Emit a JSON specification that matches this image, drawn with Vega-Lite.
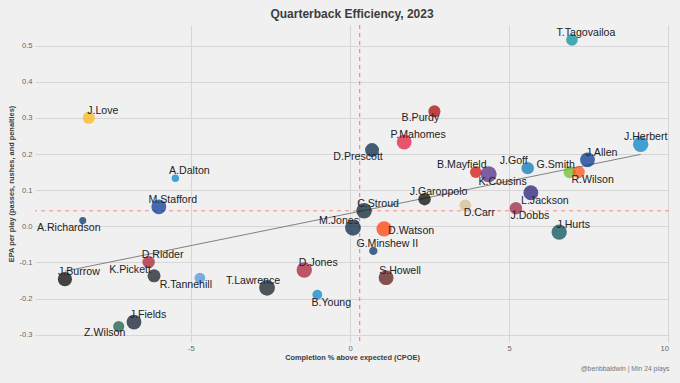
{
  "$schema": "https://vega.github.io/schema/vega-lite/v6.json",
  "width": 634,
  "height": 317,
  "autosize": {"type": "none"},
  "padding": {"left": 35, "top": 25, "right": 11, "bottom": 41},
  "background": "#F0F0F0",
  "title": {"text": "Quarterback Efficiency, 2023", "fontSize": 12, "fontWeight": "bold", "color": "#3C3C3C", "font": "Liberation Sans", "anchor": "middle", "offset": 3},
  "config": {
    "view": {"stroke": null},
    "axis": {"domain": false, "ticks": false, "gridColor": "#D6D6D6", "gridWidth": 1, "labelColor": "#666666", "labelFont": "Liberation Sans", "titleFont": "Liberation Sans"},
    "text": {"font": "Liberation Sans"}
  },
  "datasets": {
    "qbs": [
      {"player": "T.Tagovailoa", "team": "MIA", "cpoe": 6.97, "epa": 0.516, "plays": 397},
      {"player": "J.Love", "team": "GB", "cpoe": -8.21, "epa": 0.300, "plays": 423},
      {"player": "A.Dalton", "team": "CAR", "cpoe": -5.49, "epa": 0.133, "plays": 160},
      {"player": "M.Stafford", "team": "LA", "cpoe": -6.01, "epa": 0.054, "plays": 640},
      {"player": "A.Richardson", "team": "IND", "cpoe": -8.40, "epa": 0.016, "plays": 144},
      {"player": "J.Burrow", "team": "CIN", "cpoe": -8.96, "epa": -0.146, "plays": 593},
      {"player": "D.Ridder", "team": "ATL", "cpoe": -6.33, "epa": -0.099, "plays": 449},
      {"player": "K.Pickett", "team": "PIT", "cpoe": -6.16, "epa": -0.137, "plays": 490},
      {"player": "R.Tannehill", "team": "TEN", "cpoe": -4.72, "epa": -0.143, "plays": 336},
      {"player": "T.Lawrence", "team": "JAX", "cpoe": -2.61, "epa": -0.170, "plays": 722},
      {"player": "D.Jones", "team": "NYG", "cpoe": -1.44, "epa": -0.121, "plays": 689},
      {"player": "B.Young", "team": "CAR", "cpoe": -1.03, "epa": -0.189, "plays": 281},
      {"player": "J.Fields", "team": "CHI", "cpoe": -6.79, "epa": -0.265, "plays": 640},
      {"player": "Z.Wilson", "team": "NYJ", "cpoe": -7.27, "epa": -0.277, "plays": 360},
      {"player": "D.Prescott", "team": "DAL", "cpoe": 0.69, "epa": 0.211, "plays": 562},
      {"player": "P.Mahomes", "team": "KC", "cpoe": 1.70, "epa": 0.233, "plays": 640},
      {"player": "B.Purdy", "team": "SF", "cpoe": 2.65, "epa": 0.318, "plays": 423},
      {"player": "C.Stroud", "team": "HOU", "cpoe": 0.44, "epa": 0.043, "plays": 689},
      {"player": "M.Jones", "team": "NE", "cpoe": 0.09, "epa": -0.004, "plays": 722},
      {"player": "D.Watson", "team": "CLE", "cpoe": 1.07, "epa": -0.007, "plays": 689},
      {"player": "G.Minshew II", "team": "IND", "cpoe": 0.73, "epa": -0.068, "plays": 202},
      {"player": "S.Howell", "team": "WAS", "cpoe": 1.13, "epa": -0.142, "plays": 640},
      {"player": "J.Garoppolo", "team": "LV", "cpoe": 2.34, "epa": 0.075, "plays": 449},
      {"player": "D.Carr", "team": "NO", "cpoe": 3.62, "epa": 0.058, "plays": 397},
      {"player": "B.Mayfield", "team": "TB", "cpoe": 3.95, "epa": 0.150, "plays": 397},
      {"player": "K.Cousins", "team": "MIN", "cpoe": 4.35, "epa": 0.144, "plays": 757},
      {"player": "J.Goff", "team": "DET", "cpoe": 5.58, "epa": 0.161, "plays": 449},
      {"player": "L.Jackson", "team": "BAL", "cpoe": 5.68, "epa": 0.093, "plays": 640},
      {"player": "J.Dobbs", "team": "ARI", "cpoe": 5.21, "epa": 0.050, "plays": 449},
      {"player": "J.Hurts", "team": "PHI", "cpoe": 6.57, "epa": -0.016, "plays": 689},
      {"player": "G.Smith", "team": "SEA", "cpoe": 6.90, "epa": 0.150, "plays": 449},
      {"player": "R.Wilson", "team": "DEN", "cpoe": 7.18, "epa": 0.150, "plays": 449},
      {"player": "J.Allen", "team": "BUF", "cpoe": 7.46, "epa": 0.184, "plays": 640},
      {"player": "J.Herbert", "team": "LAC", "cpoe": 9.13, "epa": 0.227, "plays": 689}
    ],
    "means": [{"cpoe_mean": 0.30, "epa_mean": 0.043}],
    "fit": [{"cpoe": -8.96, "epa": -0.124}, {"cpoe": 9.13, "epa": 0.199}]
  },
  "resolve": {"axis": {"x": "independent", "y": "independent"}},
  "layer": [
    {
      "data": {"name": "means"},
      "mark": {"type": "rule", "color": "#F48A8A", "strokeDash": [4, 4], "strokeWidth": 1.2},
      "encoding": {
        "x": {"field": "cpoe_mean", "type": "quantitative", "axis": null, "scale": {"domain": [-9.9, 10.02], "nice": false, "zero": false}},
        "color": {"value": "#F48A8A"}
      }
    },
    {
      "data": {"name": "means"},
      "mark": {"type": "rule", "color": "#F48A8A", "strokeDash": [4, 4], "strokeWidth": 1},
      "encoding": {
        "y": {"field": "epa_mean", "type": "quantitative", "axis": null, "scale": {"domain": [-0.32, 0.557], "nice": false, "zero": false}},
        "color": {"value": "#F48A8A"}
      }
    },
    {
      "data": {"name": "fit"},
      "mark": {"type": "line", "color": "#808080", "strokeWidth": 1},
      "encoding": {
        "x": {"field": "cpoe", "type": "quantitative", "scale": {"domain": [-9.9, 10.02], "nice": false, "zero": false},
          "axis": {"orient": "bottom", "labels": false, "ticks": false, "domain": false, "grid": false, "title": "@benbbaldwin | Min 24 plays", "titleAnchor": "end", "titleFontSize": 6.8, "titleFontWeight": "normal", "titleColor": "#777777", "titlePadding": 23}},
        "y": {"field": "epa", "type": "quantitative", "axis": null, "scale": {"domain": [-0.32, 0.557], "nice": false, "zero": false}}
      }
    },
    {
      "data": {"name": "qbs"},
      "mark": {"type": "circle", "opacity": 0.72},
      "encoding": {
        "x": {"field": "cpoe", "type": "quantitative", "scale": {"domain": [-9.9, 10.02], "nice": false, "zero": false},
          "axis": {"orient": "bottom", "values": [-5, 0, 5, 10], "title": "Completion % above expected (CPOE)", "titleFontSize": 7.4, "titleFontWeight": "bold", "titleColor": "#3C3C3C", "labelFontSize": 7.6, "labelPadding": 2, "titlePadding": 2, "grid": true, "labelExpr": "replace(datum.label, '−', '-')"}},
        "y": {"field": "epa", "type": "quantitative", "scale": {"domain": [-0.32, 0.557], "nice": false, "zero": false},
          "axis": {"orient": "left", "values": [-0.3, -0.2, -0.1, 0, 0.1, 0.2, 0.3, 0.4, 0.5], "format": ".1f", "labelExpr": "replace(datum.label, '−', '-')", "title": "EPA per play (passes, rushes, and penalties)", "titleFontSize": 7.4, "titleFontWeight": "bold", "titleColor": "#3C3C3C", "labelFontSize": 7.6, "labelPadding": 3, "titlePadding": 3, "grid": true}},
        "size": {"field": "plays", "type": "quantitative", "legend": null, "scale": {"type": "linear", "domain": [0, 1000], "range": [0, 345]}},
        "color": {"field": "team", "type": "nominal", "legend": null,
          "scale": {
            "domain": ["MIA", "GB", "CAR", "LA", "IND", "CIN", "ATL", "PIT", "TEN", "JAX", "NYG", "CHI", "NYJ", "DAL", "KC", "SF", "HOU", "NE", "CLE", "WAS", "LV", "NO", "TB", "MIN", "DET", "BAL", "ARI", "PHI", "SEA", "DEN", "BUF", "LAC"],
            "range": ["#008E97", "#FFB612", "#0085CA", "#003594", "#002C5F", "#000000", "#A71930", "#101820", "#4B92DB", "#101820", "#A71930", "#0B162A", "#125740", "#002244", "#E31837", "#AA0000", "#03202F", "#002244", "#FF3C00", "#5A1414", "#000000", "#D3BC8D", "#D50A0A", "#4F2683", "#0076B6", "#241773", "#97233F", "#004C54", "#69BE28", "#FB4F14", "#00338D", "#0080C6"]
          }}
      }
    },
    {
      "data": {"name": "qbs"},
      "transform": [{"filter": {"field": "player", "oneOf": ["T.Tagovailoa", "J.Love", "A.Dalton", "M.Stafford", "J.Burrow", "D.Ridder", "D.Jones", "J.Fields", "P.Mahomes", "C.Stroud", "G.Minshew II", "S.Howell", "J.Garoppolo", "J.Hurts", "J.Allen"]}}],
      "mark": {"type": "text", "dx": 14, "dy": -7, "align": "center", "baseline": "middle", "fontSize": 10.6, "color": "#222222"},
      "encoding": {
        "x": {"field": "cpoe", "type": "quantitative", "axis": null},
        "y": {"field": "epa", "type": "quantitative", "axis": null},
        "text": {"field": "player"}
      }
    },
    {
      "data": {"name": "qbs"},
      "transform": [{"filter": {"field": "player", "oneOf": ["T.Lawrence", "M.Jones", "B.Mayfield", "J.Goff", "G.Smith"]}}],
      "mark": {"type": "text", "dx": -14, "dy": -7, "align": "center", "baseline": "middle", "fontSize": 10.6, "color": "#222222"},
      "encoding": {
        "x": {"field": "cpoe", "type": "quantitative", "axis": null},
        "y": {"field": "epa", "type": "quantitative", "axis": null},
        "text": {"field": "player"}
      }
    },
    {
      "data": {"name": "qbs"},
      "transform": [{"filter": {"field": "player", "oneOf": ["B.Young", "D.Carr", "K.Cousins", "L.Jackson", "J.Dobbs", "R.Wilson"]}}],
      "mark": {"type": "text", "dx": 14, "dy": 8, "align": "center", "baseline": "middle", "fontSize": 10.6, "color": "#222222"},
      "encoding": {
        "x": {"field": "cpoe", "type": "quantitative", "axis": null},
        "y": {"field": "epa", "type": "quantitative", "axis": null},
        "text": {"field": "player"}
      }
    },
    {
      "data": {"name": "qbs"},
      "transform": [{"filter": {"field": "player", "oneOf": ["A.Richardson", "R.Tannehill", "Z.Wilson", "D.Prescott", "B.Purdy"]}}],
      "mark": {"type": "text", "dx": -14, "dy": 7, "align": "center", "baseline": "middle", "fontSize": 10.6, "color": "#222222"},
      "encoding": {
        "x": {"field": "cpoe", "type": "quantitative", "axis": null},
        "y": {"field": "epa", "type": "quantitative", "axis": null},
        "text": {"field": "player"}
      }
    },
    {
      "data": {"name": "qbs"},
      "transform": [{"filter": {"field": "player", "equal": "D.Watson"}}],
      "mark": {"type": "text", "dx": 27, "dy": 2, "align": "center", "baseline": "middle", "fontSize": 10.6, "color": "#222222"},
      "encoding": {
        "x": {"field": "cpoe", "type": "quantitative", "axis": null},
        "y": {"field": "epa", "type": "quantitative", "axis": null},
        "text": {"field": "player"}
      }
    },
    {
      "data": {"name": "qbs"},
      "transform": [{"filter": {"field": "player", "equal": "K.Pickett"}}],
      "mark": {"type": "text", "dx": -24, "dy": -6, "align": "center", "baseline": "middle", "fontSize": 10.6, "color": "#222222"},
      "encoding": {
        "x": {"field": "cpoe", "type": "quantitative", "axis": null},
        "y": {"field": "epa", "type": "quantitative", "axis": null},
        "text": {"field": "player"}
      }
    },
    {
      "data": {"name": "qbs"},
      "transform": [{"filter": {"field": "player", "equal": "J.Herbert"}}],
      "mark": {"type": "text", "dx": 5, "dy": -7, "align": "center", "baseline": "middle", "fontSize": 10.6, "color": "#222222"},
      "encoding": {
        "x": {"field": "cpoe", "type": "quantitative", "axis": null},
        "y": {"field": "epa", "type": "quantitative", "axis": null},
        "text": {"field": "player"}
      }
    }
  ]
}
